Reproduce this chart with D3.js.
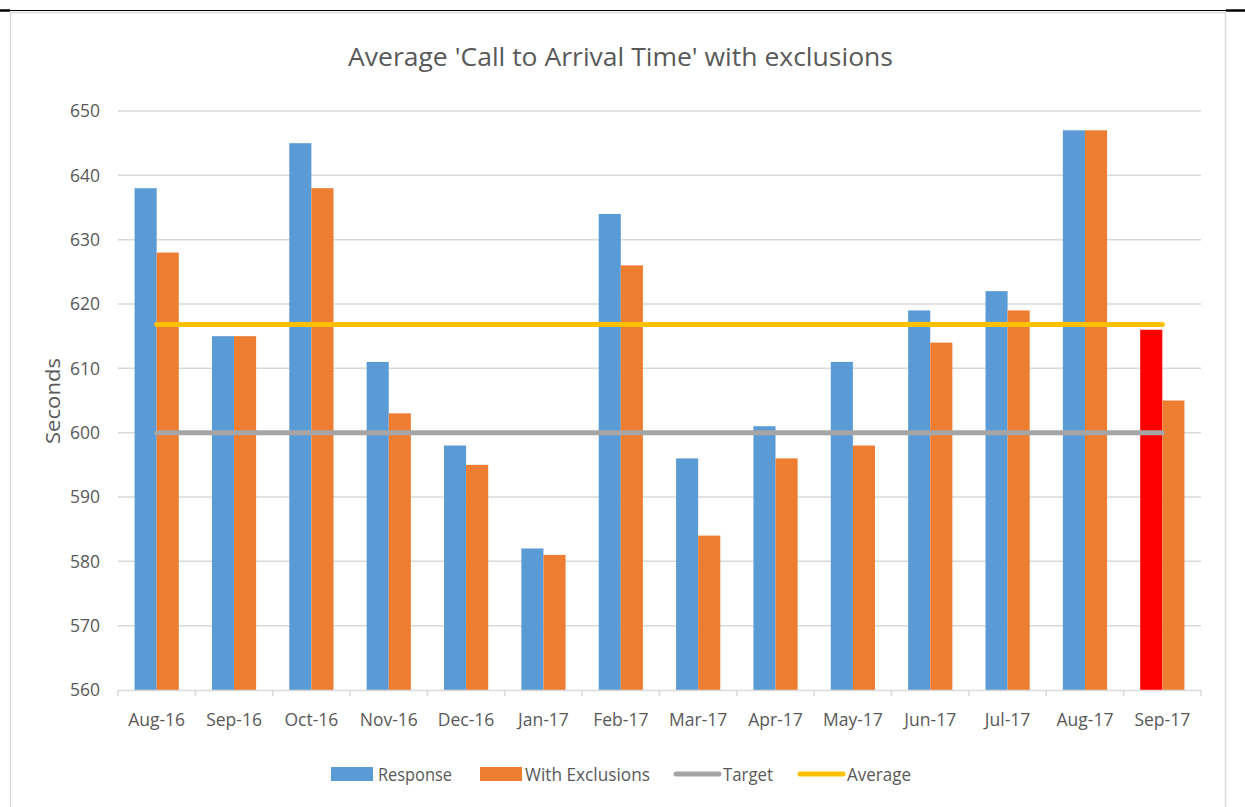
<!DOCTYPE html>
<html><head><meta charset="utf-8">
<script src="https://cdn.jsdelivr.net/npm/d3@7"></script>
<style>body{margin:0;background:#fff;} svg{display:block;}</style>
</head><body>
<script>
const categories = ["Aug-16","Sep-16","Oct-16","Nov-16","Dec-16","Jan-17","Feb-17","Mar-17","Apr-17","May-17","Jun-17","Jul-17","Aug-17","Sep-17"];
const responseValues = [638,615,645,611,598,582,634,596,601,611,619,622,647,616];
const exclusionValues = [628,615,638,603,595,581,626,584,596,598,614,619,647,605];
const targetValue = 600;
const averageValue = 616.8;
const yTicks = [560,570,580,590,600,610,620,630,640,650];
const seriesNames = ["Response","With Exclusions","Target","Average"];

(function(){
const W = 1245, H = 807;
const font = "'Open Sans',sans-serif";
const txt = "#595959";
const svg = d3.select("body").append("svg").attr("width", W).attr("height", H);

svg.append("line").attr("x1",0).attr("x2",W).attr("y1",10.5).attr("y2",10.5).attr("stroke","#000").attr("stroke-width",1);
svg.append("line").attr("x1",0).attr("x2",10).attr("y1",10.5).attr("y2",10.5).attr("stroke","#000").attr("stroke-width",2.5);
svg.append("line").attr("x1",1226).attr("x2",W).attr("y1",10.5).attr("y2",10.5).attr("stroke","#000").attr("stroke-width",2.5);
svg.append("rect").attr("x",10.5).attr("y",12.5).attr("width",1215).attr("height",H).attr("fill","#fff").attr("stroke","#d9d9d9").attr("stroke-width",1.5);

const pL = 118, pR = 1201, pT = 111, pB = 690;
const x = d3.scaleBand().domain(categories).range([pL,pR]).paddingInner(0.4286).paddingOuter(0.2143);
const x1 = d3.scaleBand().domain([0,1]).range([0,x.bandwidth()]);
const y = d3.scaleLinear().domain([560,650]).range([pB,pT]);

svg.append("g").selectAll("line").data(yTicks.slice(1)).join("line")
  .attr("x1",pL).attr("x2",pR).attr("y1",d=>y(d)).attr("y2",d=>y(d))
  .attr("stroke","#d9d9d9").attr("stroke-width",1.5);

svg.append("g").selectAll("text").data(yTicks).join("text")
  .attr("x",100).attr("y",d=>y(d)).attr("dy","0.357em").attr("text-anchor","end")
  .attr("font-family",font).attr("font-size",17.5).attr("fill",txt).text(d=>d);

const g = svg.append("g");
categories.forEach((c,i)=>{
  g.append("rect").attr("x",x(c)+x1(0)).attr("width",x1.bandwidth())
    .attr("y",y(responseValues[i])).attr("height",y(560)-y(responseValues[i]))
    .attr("fill", i===categories.length-1 ? "#ff0000" : "#5b9bd5");
  g.append("rect").attr("x",x(c)+x1(1)).attr("width",x1.bandwidth())
    .attr("y",y(exclusionValues[i])).attr("height",y(560)-y(exclusionValues[i]))
    .attr("fill","#ed7d31");
});

svg.append("line").attr("x1",pL).attr("x2",pR).attr("y1",pB+0.5).attr("y2",pB+0.5).attr("stroke","#d9d9d9").attr("stroke-width",1.5);
const tickXs = d3.range(categories.length+1).map(i=>pL+i*(pR-pL)/categories.length);
svg.append("g").selectAll("line").data(tickXs).join("line")
  .attr("x1",d=>d).attr("x2",d=>d).attr("y1",pB).attr("y2",pB+6)
  .attr("stroke","#d9d9d9").attr("stroke-width",1.5);
svg.append("g").selectAll("text").data(categories).join("text")
  .attr("x",d=>x(d)+x.bandwidth()/2).attr("y",726).attr("text-anchor","middle")
  .attr("font-family",font).attr("font-size",17.5).attr("fill",txt).text(d=>d);

const xc0 = x(categories[0])+x.bandwidth()/2, xc1 = x(categories[categories.length-1])+x.bandwidth()/2;
svg.append("line").attr("x1",xc0).attr("x2",xc1).attr("y1",y(targetValue)).attr("y2",y(targetValue))
  .attr("stroke","#a5a5a5").attr("stroke-width",5).attr("stroke-linecap","round");
svg.append("line").attr("x1",xc0).attr("x2",xc1).attr("y1",y(averageValue)).attr("y2",y(averageValue))
  .attr("stroke","#ffc000").attr("stroke-width",5).attr("stroke-linecap","round");

svg.append("text").attr("x",348).attr("y",66)
  .attr("font-family",font).attr("font-size",26).attr("fill",txt)
  .attr("textLength",545).attr("lengthAdjust","spacingAndGlyphs")
  .text("Average 'Call to Arrival Time' with exclusions");

svg.append("text").attr("transform","translate(60,401) rotate(-90)").attr("text-anchor","middle")
  .attr("font-family",font).attr("font-size",19.5).attr("fill",txt)
  .attr("textLength",86).attr("lengthAdjust","spacingAndGlyphs").text("Seconds");

const legend = [
  {name:seriesNames[0], type:"rect", color:"#5b9bd5", x:331, tx:378, tw:74},
  {name:seriesNames[1], type:"rect", color:"#ed7d31", x:480, tx:525, tw:125},
  {name:seriesNames[2], type:"line", color:"#a5a5a5", x:676, tx:723, tw:50},
  {name:seriesNames[3], type:"line", color:"#ffc000", x:800, tx:847, tw:64}
];
const ly = 774;
legend.forEach(l=>{
  if(l.type==="rect") svg.append("rect").attr("x",l.x).attr("y",ly-7).attr("width",42).attr("height",14).attr("fill",l.color);
  else svg.append("line").attr("x1",l.x).attr("x2",l.x+43).attr("y1",ly).attr("y2",ly).attr("stroke",l.color).attr("stroke-width",5).attr("stroke-linecap","round");
  svg.append("text").attr("x",l.tx).attr("y",ly+7).attr("font-family",font).attr("font-size",18.5).attr("fill",txt)
    .attr("textLength",l.tw).attr("lengthAdjust","spacingAndGlyphs").text(l.name);
});
})();
</script>
</body></html>
